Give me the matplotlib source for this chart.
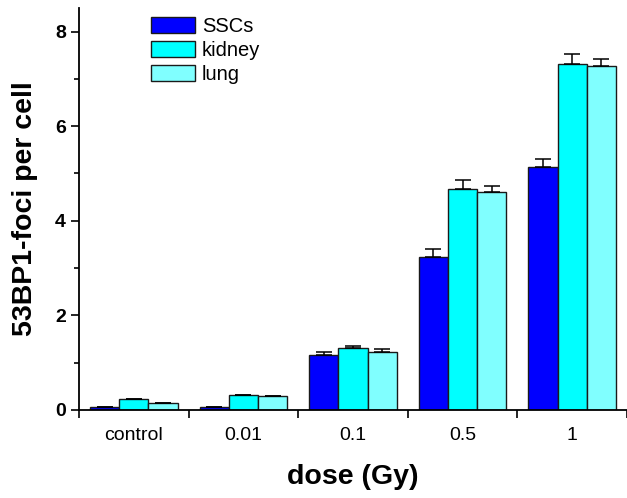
import numpy as np
import matplotlib.pyplot as plt
from matplotlib.ticker import MultipleLocator

plt.rcParams['font.family'] = ['Liberation Sans', 'DejaVu Sans']

doses = ["control", "0.01", "0.1", "0.5", "1"]
series = ["SSCs", "kidney", "lung"]
colors = ["#0000FF", "#00FFFF", "#80FFFF"]

ssc_mean = [0.05, 0.05, 1.15, 3.23, 5.13]
ssc_err = [0.01, 0.01, 0.07, 0.17, 0.17]
kidney_mean = [0.22, 0.31, 1.31, 4.67, 7.31]
kidney_err = [0.01, 0.01, 0.03, 0.20, 0.22]
lung_mean = [0.14, 0.30, 1.22, 4.61, 7.27]
lung_err = [0.00, 0.00, 0.06, 0.13, 0.15]

means = [ssc_mean, kidney_mean, lung_mean]
errs = [ssc_err, kidney_err, lung_err]

fig = plt.figure(figsize=(6.27, 4.98), dpi=100)
ax = fig.add_axes([0.126, 0.177, 0.874, 0.807])

x = np.arange(len(doses))
width = 0.8 / 3
for i, (name, m, e, c) in enumerate(zip(series, means, errs, colors)):
    pos = x - 0.4 + width * (i + 0.5)
    ax.bar(pos, m, width, color=c, edgecolor="#1a1a1a", linewidth=1.0, label=name, zorder=2)
    ax.errorbar(pos, m, yerr=[np.zeros(len(e)), e], fmt="none", ecolor="black",
                elinewidth=1.1, capsize=5.5, capthick=1.1, zorder=3)

ax.set_xlim(-0.5, 4.5)
ax.set_ylim(0, 8.5)

ax.set_xticks(np.arange(-0.5, 4.6, 1.0))
ax.set_xticklabels([])
ax.set_xticks(x, minor=True)
ax.set_xticklabels(doses, minor=True)
ax.tick_params(axis="x", which="major", direction="out", length=6, width=1.2)
ax.tick_params(axis="x", which="minor", length=0, pad=12, labelsize=14)

ax.yaxis.set_major_locator(MultipleLocator(2))
ax.yaxis.set_minor_locator(MultipleLocator(1))
ax.tick_params(axis="y", which="major", direction="out", length=6, width=1.2, labelsize=14)
ax.tick_params(axis="y", which="minor", direction="out", length=3.5, width=1.2)
for lab in ax.get_yticklabels():
    lab.set_fontweight("bold")

for s in ["top", "right"]:
    ax.spines[s].set_visible(False)
for s in ["left", "bottom"]:
    ax.spines[s].set_linewidth(1.3)

ax.set_xlabel("dose (Gy)", fontsize=20.5, fontweight="bold", labelpad=15)
ax.set_ylabel("53BP1-foci per cell", fontsize=20.5, fontweight="bold", labelpad=12)

ax.legend(loc="upper left", bbox_to_anchor=(0.11, 1.008), frameon=False, fontsize=14.5,
          handlelength=2.15, handleheight=0.85, handletextpad=0.35, labelspacing=0.25,
          borderaxespad=0.2)

fig.savefig("out.png", dpi=100)
